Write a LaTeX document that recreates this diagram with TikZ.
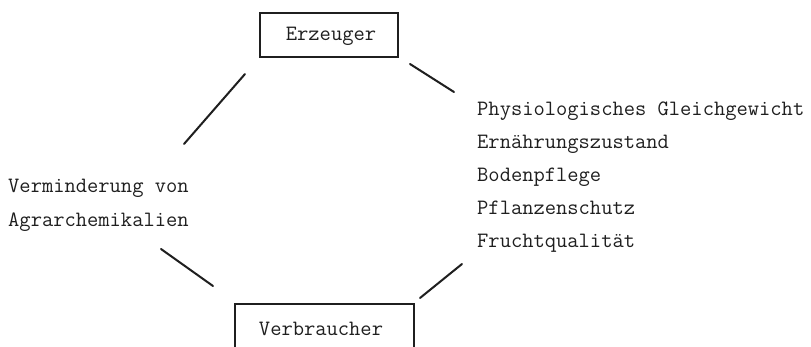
\documentclass[tikz,border=0pt]{standalone}
\begin{document}
\begin{tikzpicture}[x=1pt,y=-1pt,
  txt/.style={font=\ttfamily\fontsize{21.9}{33}\selectfont, inner sep=0pt, text=black!88},
  boxed/.style={draw=black!88, line width=2.2pt, inner sep=0pt},
  link/.style={draw=black!88, line width=2pt, line cap=round}]
\clip (0,0) rectangle (811,346);
\fill[white] (0,0) rectangle (811,346);
% boxes
\node[boxed, minimum width=138pt, minimum height=44pt] (erzbox) at (329,35) {};
\node[txt, anchor=base] (erz) at (331,40) {Erzeuger};
\node[boxed, minimum width=179pt, minimum height=80pt, anchor=north west] (verbox) at (234,303) {};
\node[txt, anchor=base] (verb) at (321,335) {Verbraucher};
% right list
\node[txt, anchor=base west] (r1) at (477,115) {Physiologisches Gleichgewicht};
\node[txt, anchor=base west] (r2) at (477,148) {Ernährungszustand};
\node[txt, anchor=base west] (r3) at (477,181) {Bodenpflege};
\node[txt, anchor=base west] (r4) at (477,214) {Pflanzenschutz};
\node[txt, anchor=base west] (r5) at (477,247) {Fruchtqualität};
% left text
\node[txt, anchor=base west] (l1) at (8,192) {Verminderung von};
\node[txt, anchor=base west] (l2) at (8,226) {Agrarchemikalien};
% connector ends
\coordinate (ula) at (245,74);
\coordinate (ulb) at (184,144);
\coordinate (ura) at (410,64);
\coordinate (urb) at (454,92);
\coordinate (lla) at (161,249);
\coordinate (llb) at (213,286);
\coordinate (lra) at (462,264);
\coordinate (lrb) at (420,298);
\draw[link] (ula) -- (ulb);
\draw[link] (ura) -- (urb);
\draw[link] (lla) -- (llb);
\draw[link] (lra) -- (lrb);
\end{tikzpicture}
\end{document}
